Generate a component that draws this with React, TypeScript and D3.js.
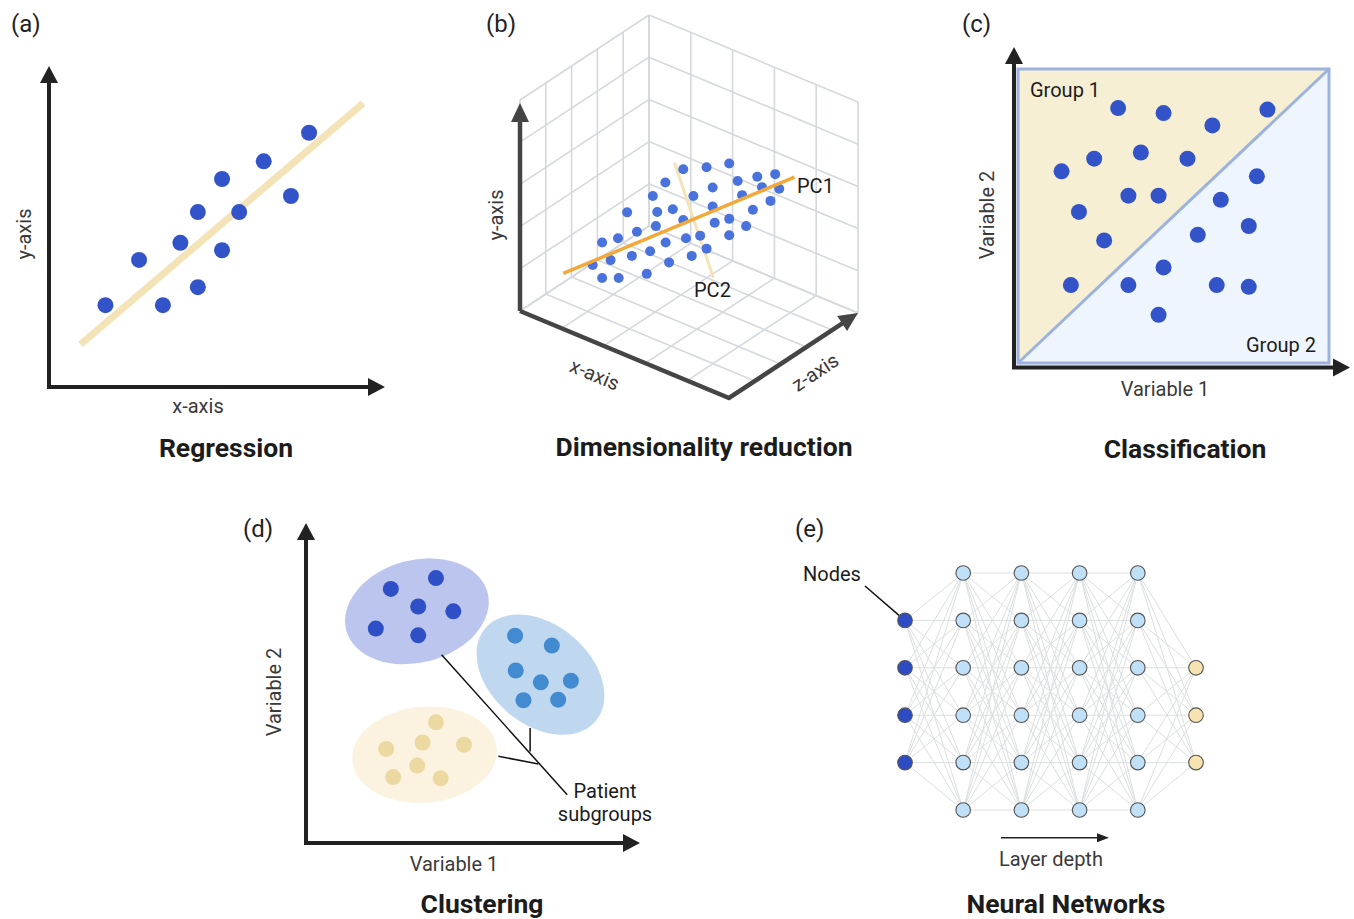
import * as d3 from 'd3';
import React from 'react';

const FONT = 'Roboto, "Noto Sans", sans-serif';

// (a) regression
const regX = [1.68, 2.68, 3.39, 3.91, 4.43, 4.43, 5.15, 5.15, 5.66, 6.39, 7.2, 7.74];
const regY = [2.55, 3.96, 2.55, 4.49, 3.11, 5.45, 6.48, 4.26, 5.45, 7.03, 5.95, 7.92];
const regLine = [[0.94, 1.33], [9.35, 8.84]];

// (b) dimensionality reduction (projected positions)
const pcaX = [48.3, 55.2, 61.9, 43.0, 57.0, 64.4, 70.2, 75.5, 71.6, 76.7, 39.3, 51.3, 65.7, 74.1,
  31.7, 40.6, 45.2, 57.0, 68.9, 48.3, 40.2, 57.6, 61.9, 66.9, 34.6, 24.3, 29.0, 49.1, 53.3, 61.9,
  43.1, 38.5, 33.1, 26.8, 21.5, 55.2, 50.8, 44.1, 37.5, 24.3, 29.2];
const pcaY = [59.9, 60.4, 61.4, 56.4, 55.1, 56.8, 57.9, 58.6, 55.2, 54.8, 52.9, 52.9, 53.1, 51.6,
  48.6, 48.7, 49.4, 50.1, 49.3, 46.6, 45.0, 45.9, 46.9, 45.0, 43.5, 40.7, 41.8, 41.8, 42.5, 42.6,
  40.7, 38.4, 37.2, 36.1, 34.8, 39.1, 37.2, 35.5, 32.5, 31.4, 31.4];
const pc1 = [[12.8, 32.6], [81.2, 57.8]];
const pc2 = [[45.7, 61.6], [57.2, 31.5]];

// (c) classification
const classX = [3.22, 4.68, 6.25, 8.02, 3.95, 2.45, 5.45, 1.4, 7.68, 3.55, 4.52, 6.52, 1.96, 7.42,
  5.78, 2.77, 4.68, 1.7, 3.55, 6.39, 7.42, 4.52];
const classY = [8.67, 8.5, 8.08, 8.62, 7.16, 6.95, 6.95, 6.52, 6.35, 5.69, 5.69, 5.55, 5.14, 4.66,
  4.36, 4.17, 3.25, 2.65, 2.65, 2.65, 2.59, 1.64];

// (d) clustering
const clusterCenters = [[3.32, 7.24], [7.02, 5.26], [3.55, 2.76]];
const clusterAxes = [[2.19, 1.6, -15], [2.16, 1.56, 40], [2.17, 1.5, -5]];
const clusterPointsX = [
  [2.54, 3.89, 3.36, 4.41, 2.09, 3.36],
  [6.26, 7.36, 6.28, 7.03, 7.93, 6.51, 7.55],
  [3.89, 3.49, 2.4, 4.73, 3.33, 2.61, 4.03],
];
const clusterPointsY = [
  [7.94, 8.28, 7.39, 7.24, 6.7, 6.49],
  [6.48, 6.17, 5.39, 5.02, 5.07, 4.46, 4.48],
  [3.77, 3.14, 2.94, 3.07, 2.42, 2.06, 2.02],
];
const clusterFill = ['#bcc5ee', '#bfd8f0', '#fbf3df'];
const clusterDot = ['#2f4fc6', '#428bd1', '#ecd9a2'];
const leaderMain = [[4.06, 5.88], [7.82, 1.51]];
const leaderBranches = [[[6.71, 3.59], [6.71, 2.86]], [[5.76, 2.71], [6.96, 2.47]]];

// (e) neural network: rows used in each layer
const layerRows = [[1, 2, 3, 4], [0, 1, 2, 3, 4, 5], [0, 1, 2, 3, 4, 5], [0, 1, 2, 3, 4, 5], [0, 1, 2, 3, 4, 5], [2, 3, 4]];
const layerFill = ['#2d4cc4', '#bfe0f7', '#bfe0f7', '#bfe0f7', '#bfe0f7', '#f6e3b0'];

const DOT = '#3353c8';
const LBL = 20;   // axis / annotation labels
const TTL = 26.5; // panel titles
const LET = 24;   // panel letters

function arrow(x: number, y: number, angle: number, len = 17, half = 9) {
  const ux = Math.cos(angle), uy = Math.sin(angle);
  const bx = x - ux * len, by = y - uy * len;
  return `${x},${y} ${bx - uy * half},${by + ux * half} ${bx + uy * half},${by - ux * half}`;
}

function Label(p: any) {
  const { x, y, size = LBL, fill = '#3a3a3a', weight = 400, anchor = 'middle', rotate = 0, children, ...rest } = p;
  return (
    <text x={x} y={y} fontSize={size} fill={fill} fontWeight={weight} textAnchor={anchor} fontFamily={FONT}
      transform={rotate ? `rotate(${rotate},${x},${y})` : undefined} {...rest}>{children}</text>
  );
}

function PanelA() {
  const x = d3.scaleLinear().domain([0, 10]).range([49, 385]);
  const y = d3.scaleLinear().domain([0, 10]).range([387, 66]);
  const ax = '#222';
  return (
    <g>
      <line x1={x(regLine[0][0])} y1={y(regLine[0][1])} x2={x(regLine[1][0])} y2={y(regLine[1][1])}
        stroke="#f3e3b6" strokeWidth={7} />
      {regX.map((v, i) => <circle key={i} cx={x(v)} cy={y(regY[i])} r={8} fill={DOT} />)}
      <line x1={x(0)} y1={y(0) + 2} x2={x(0)} y2={y(10) + 15} stroke={ax} strokeWidth={4} />
      <polygon points={arrow(x(0), y(10), -Math.PI / 2)} fill={ax} />
      <line x1={x(0) - 2} y1={y(0)} x2={x(10) - 15} y2={y(0)} stroke={ax} strokeWidth={4} />
      <polygon points={arrow(x(10), y(0), 0)} fill={ax} />
      <Label x={31} y={234} rotate={-90}>y-axis</Label>
      <Label x={198} y={413}>x-axis</Label>
      <Label x={226} y={457} size={TTL} weight={700} fill="#1c1c1c">Regression</Label>
      <Label x={11} y={32} size={LET} anchor="start" fill="#222">(a)</Label>
    </g>
  );
}

function PanelB() {
  const x = d3.scaleLinear().domain([0, 100]).range([520, 858]);
  const y = d3.scaleLinear().domain([0, 100]).range([398, 16]);
  const O = [520, 311], X = [209, 87], Z = [129, -85], Hh = 211, N = 5;
  const P = (u: number, v: number, w: number) =>
    [O[0] + (u / N) * X[0] + (w / N) * Z[0], O[1] + (u / N) * X[1] + (w / N) * Z[1] - (v / N) * Hh];
  const segs: number[][][] = [];
  d3.range(N + 1).forEach((k) => {
    segs.push([P(k, 0, 0), P(k, 0, N)]); // floor
    segs.push([P(0, 0, k), P(N, 0, k)]);
    segs.push([P(0, k, 0), P(0, k, N)]); // left wall
    segs.push([P(0, 0, k), P(0, N, k)]);
    segs.push([P(0, k, N), P(N, k, N)]); // back wall
    segs.push([P(k, 0, N), P(k, N, N)]);
  });
  const ax = '#454545';
  const fr = P(N, 0, 0), rt = P(N, 0, N);
  const zAng = Math.atan2(Z[1], Z[0]);
  return (
    <g>
      {segs.map((s, i) => (
        <line key={i} x1={s[0][0]} y1={s[0][1]} x2={s[1][0]} y2={s[1][1]} stroke="#d5d8dc" strokeWidth={1.6} />
      ))}
      <line x1={x(pc2[0][0])} y1={y(pc2[0][1])} x2={x(pc2[1][0])} y2={y(pc2[1][1])} stroke="#f3e3b6" strokeWidth={3} />
      {pcaX.map((v, i) => <circle key={i} cx={x(v)} cy={y(pcaY[i])} r={5} fill="#4a72dc" />)}
      <line x1={x(pc1[0][0])} y1={y(pc1[0][1])} x2={x(pc1[1][0])} y2={y(pc1[1][1])} stroke="#f2a93a" strokeWidth={3.5} />
      <line x1={O[0]} y1={O[1]} x2={O[0]} y2={O[1] - Hh + 22} stroke={ax} strokeWidth={4.5} />
      <polygon points={arrow(O[0], O[1] - Hh + 3, -Math.PI / 2, 19, 9)} fill={ax} />
      <polyline points={`${O[0]},${O[1]} ${fr[0]},${fr[1]} ${rt[0] - 16 * Math.cos(zAng)},${rt[1] - 16 * Math.sin(zAng)}`}
        fill="none" stroke={ax} strokeWidth={4.5} strokeLinejoin="miter" />
      <polygon points={arrow(rt[0], rt[1], zAng, 19, 9)} fill={ax} />
      <Label x={797} y={193} anchor="start" fill="#1c1c1c">PC1</Label>
      <Label x={694} y={297} anchor="start" fill="#1c1c1c">PC2</Label>
      <Label x={503} y={215} rotate={-90}>y-axis</Label>
      <Label x={592} y={381} rotate={22.6}>x-axis</Label>
      <Label x={819} y={378} rotate={-33.4}>z-axis</Label>
      <Label x={704} y={456} size={TTL} weight={700} fill="#1c1c1c">Dimensionality reduction</Label>
      <Label x={486} y={32} size={LET} anchor="start" fill="#222">(b)</Label>
    </g>
  );
}

function PanelC() {
  const x = d3.scaleLinear().domain([0, 10]).range([1018, 1329]);
  const y = d3.scaleLinear().domain([0, 10]).range([363, 69]);
  const ax = '#222';
  const edge = '#9cb2df';
  const pts = (a: number[][]) => a.map((p) => `${x(p[0])},${y(p[1])}`).join(' ');
  return (
    <g>
      <polygon points={pts([[0, 0], [0, 10], [10, 10]])} fill="#f7efd4" />
      <polygon points={pts([[0, 0], [10, 0], [10, 10]])} fill="#eef5fd" />
      <rect x={x(0)} y={y(10)} width={x(10) - x(0)} height={y(0) - y(10)} fill="none" stroke={edge} strokeWidth={3} />
      <line x1={x(0)} y1={y(0)} x2={x(10)} y2={y(10)} stroke={edge} strokeWidth={3} />
      {classX.map((v, i) => <circle key={i} cx={x(v)} cy={y(classY[i])} r={8} fill={DOT} />)}
      <line x1={x(0) - 4} y1={y(0) + 6} x2={x(0) - 4} y2={y(10) - 8} stroke={ax} strokeWidth={4} />
      <polygon points={arrow(x(0) - 4, y(10) - 22, -Math.PI / 2)} fill={ax} />
      <line x1={x(0) - 6} y1={y(0) + 4.5} x2={x(10) + 7} y2={y(0) + 4.5} stroke={ax} strokeWidth={4} />
      <polygon points={arrow(x(10) + 21, y(0) + 4.5, 0)} fill={ax} />
      <Label x={1030} y={97} anchor="start" fill="#1c1c1c">Group 1</Label>
      <Label x={1316} y={352} anchor="end" fill="#1c1c1c">Group 2</Label>
      <Label x={994} y={215} rotate={-90}>Variable 2</Label>
      <Label x={1165} y={396}>Variable 1</Label>
      <Label x={1185} y={458} size={TTL} weight={700} fill="#1c1c1c">Classification</Label>
      <Label x={962} y={32} size={LET} anchor="start" fill="#222">(c)</Label>
    </g>
  );
}

function PanelD() {
  const x = d3.scaleLinear().domain([0, 10]).range([306, 640]);
  const y = d3.scaleLinear().domain([0, 10]).range([843, 523]);
  const kx = x(1) - x(0), ky = y(0) - y(1);
  const ax = '#222';
  return (
    <g>
      {clusterCenters.map((c, i) => (
        <ellipse key={i} cx={x(c[0])} cy={y(c[1])} rx={clusterAxes[i][0] * kx} ry={clusterAxes[i][1] * ky}
          fill={clusterFill[i]} transform={`rotate(${clusterAxes[i][2]},${x(c[0])},${y(c[1])})`} />
      ))}
      {clusterPointsX.map((xs, g) =>
        xs.map((v, i) => <circle key={`${g}-${i}`} cx={x(v)} cy={y(clusterPointsY[g][i])} r={8} fill={clusterDot[g]} />)
      )}
      <line x1={x(leaderMain[0][0])} y1={y(leaderMain[0][1])} x2={x(leaderMain[1][0])} y2={y(leaderMain[1][1])}
        stroke="#111" strokeWidth={1.5} />
      {leaderBranches.map((b, i) => (
        <line key={i} x1={x(b[0][0])} y1={y(b[0][1])} x2={x(b[1][0])} y2={y(b[1][1])} stroke="#111" strokeWidth={1.5} />
      ))}
      <line x1={x(0)} y1={y(0) + 2} x2={x(0)} y2={y(10) + 15} stroke={ax} strokeWidth={4} />
      <polygon points={arrow(x(0), y(10), -Math.PI / 2)} fill={ax} />
      <line x1={x(0) - 2} y1={y(0)} x2={x(10) - 15} y2={y(0)} stroke={ax} strokeWidth={4} />
      <polygon points={arrow(x(10), y(0), 0)} fill={ax} />
      <Label x={605} y={798} fill="#1c1c1c">Patient</Label>
      <Label x={605} y={821} fill="#1c1c1c">subgroups</Label>
      <Label x={281} y={692} rotate={-90}>Variable 2</Label>
      <Label x={454} y={871}>Variable 1</Label>
      <Label x={482} y={913} size={TTL} weight={700} fill="#1c1c1c">Clustering</Label>
      <Label x={243} y={537} size={LET} anchor="start" fill="#222">(d)</Label>
    </g>
  );
}

function PanelE() {
  const x = d3.scaleLinear().domain([0, 5]).range([905, 1196]);
  const y = d3.scaleLinear().domain([0, 5]).range([573, 810]);
  const edges: number[][] = [];
  layerRows.slice(0, -1).forEach((rows, l) => {
    rows.forEach((a) => layerRows[l + 1].forEach((b) => edges.push([l, a, b])));
  });
  return (
    <g>
      {edges.map((e, i) => (
        <line key={i} x1={x(e[0])} y1={y(e[1])} x2={x(e[0] + 1)} y2={y(e[2])} stroke="#dcdfe0" strokeWidth={1} />
      ))}
      {layerRows.map((rows, l) =>
        rows.map((r) => (
          <circle key={`${l}-${r}`} cx={x(l)} cy={y(r)} r={7.3} fill={layerFill[l]} stroke="#555" strokeWidth={1.1} />
        ))
      )}
      <line x1={865} y1={586} x2={x(0) - 6} y2={y(1) - 5} stroke="#111" strokeWidth={1.5} />
      <Label x={803} y={581} anchor="start" fill="#1c1c1c">Nodes</Label>
      <line x1={1001} y1={837.7} x2={1098} y2={837.7} stroke="#222" strokeWidth={1.5} />
      <polygon points={arrow(1109, 837.7, 0, 12, 4.5)} fill="#222" />
      <Label x={1051} y={866}>Layer depth</Label>
      <Label x={1066} y={913} size={TTL} weight={700} fill="#1c1c1c">Neural Networks</Label>
      <Label x={795} y={537} size={LET} anchor="start" fill="#222">(e)</Label>
    </g>
  );
}

export default function App() {
  return (
    <svg width={1354} height={919} viewBox="0 0 1354 919"
      style={{ position: 'absolute', left: 0, top: 0, background: '#fff' }}>
      <rect width={1354} height={919} fill="#fff" />
      <PanelA />
      <PanelB />
      <PanelC />
      <PanelD />
      <PanelE />
    </svg>
  );
}
